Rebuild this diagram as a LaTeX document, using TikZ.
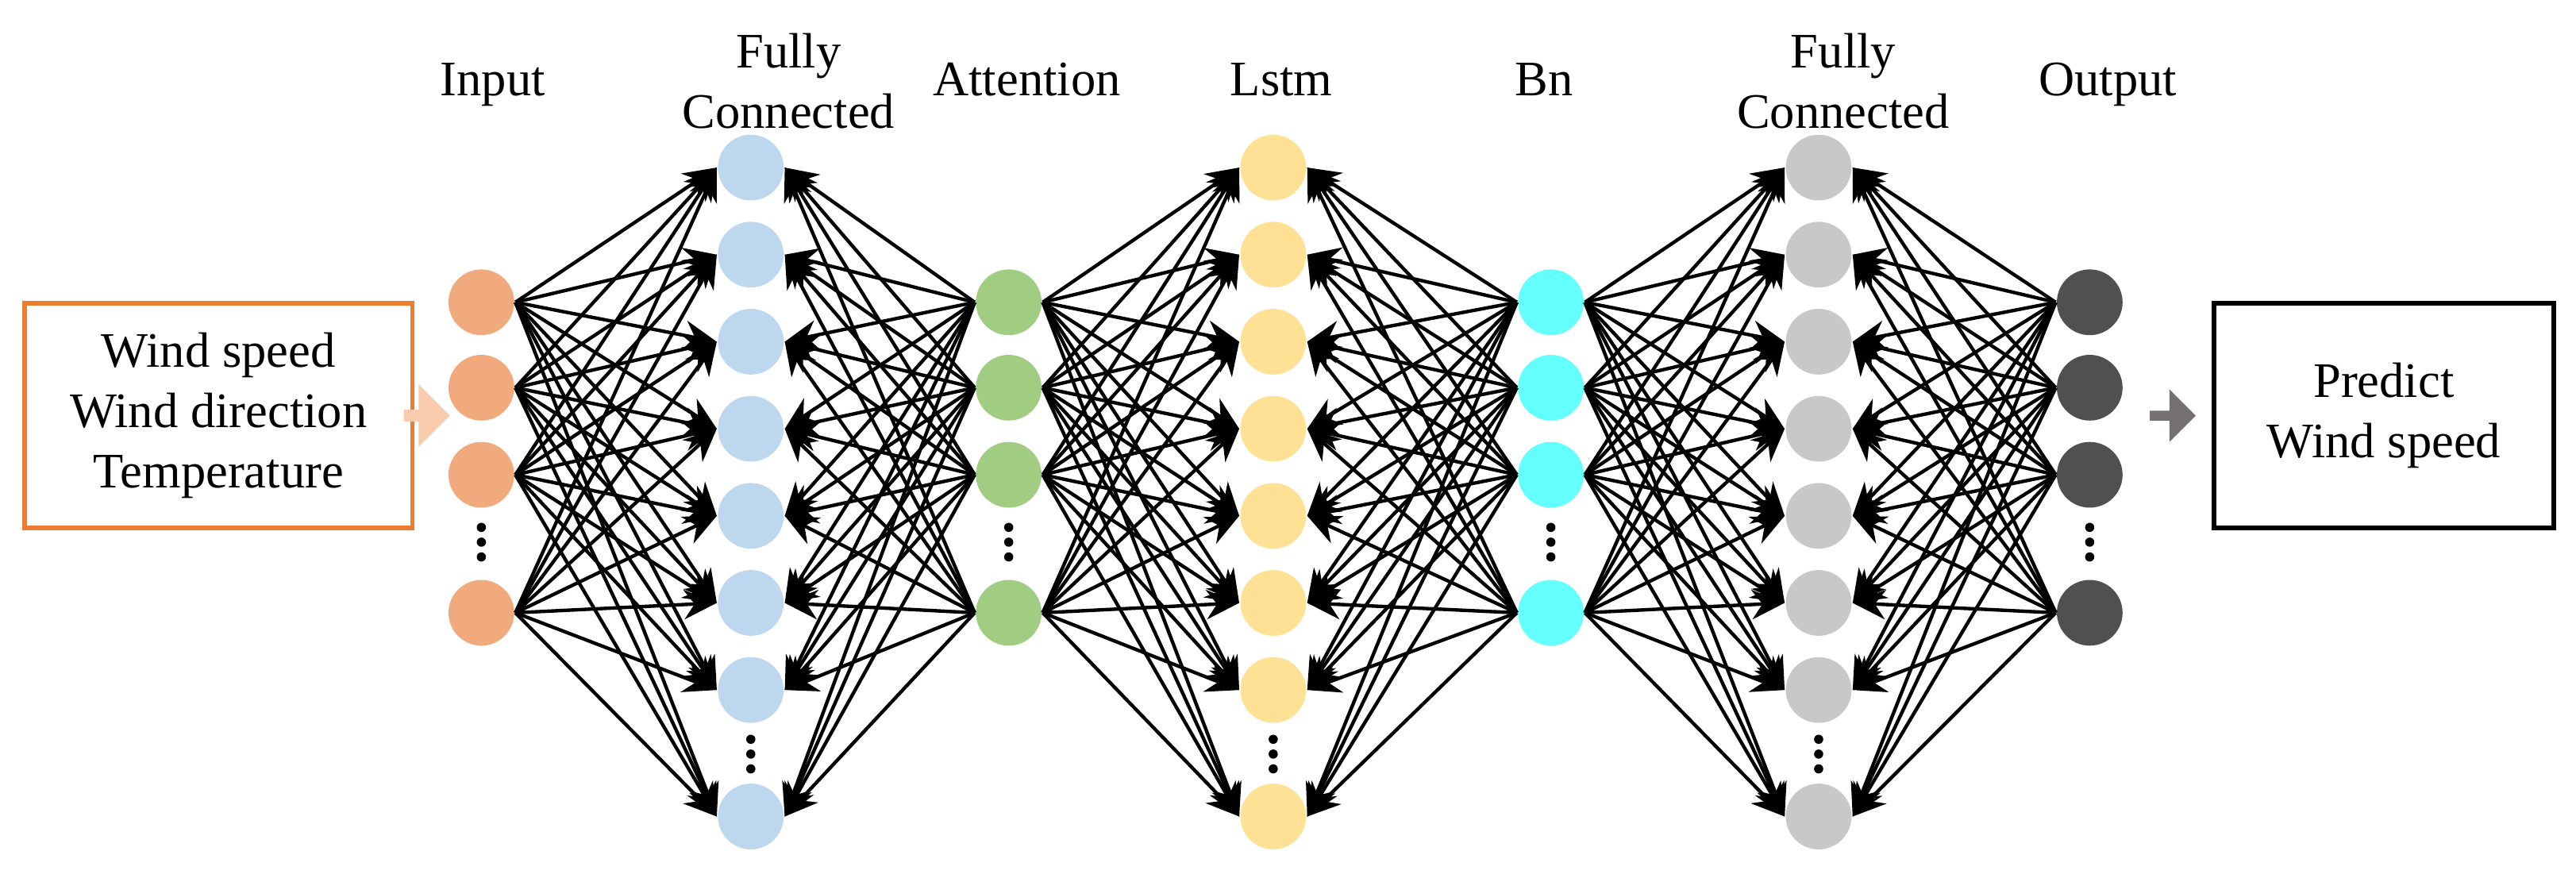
\documentclass[tikz,border=0pt]{standalone}
\usepackage{fontspec}
\setmainfont{Liberation Serif}
\usetikzlibrary{shapes, shapes.arrows, arrows.meta, positioning, calc}
\definecolor{inorange}{RGB}{240, 170, 125}
\definecolor{fcblue}{RGB}{189, 215, 238}
\definecolor{attgreen}{RGB}{160, 205, 130}
\definecolor{lstmyellow}{RGB}{255, 225, 150}
\definecolor{bncyan}{RGB}{100, 255, 255}
\definecolor{fcgray}{RGB}{200, 200, 200}
\definecolor{outdark}{RGB}{80, 80, 80}
\definecolor{boxorange}{RGB}{237, 125, 49}
\definecolor{arrowpeach}{RGB}{248, 203, 173}
\definecolor{arrowgray}{RGB}{118, 113, 113}

\begin{document}
\begin{tikzpicture}[
	        x=0.1mm, y=-0.1mm,
	        font=\fontsize{8.6}{10.4}\selectfont,
	        neuron/.style={
	            circle,
	            minimum size=4mm,
	            inner sep=0pt,
	            draw=none
	        },
	        link/.style={
	            -{Stealth[length=2mm, width=1.8mm]},
	            line width=0.6pt,
	            draw=black
	        },
	        title/.style={
	            align=center,
	            anchor=base
	        },
	        bigarrow/.style={
	            single arrow,
	            minimum height=2.8mm,
	            minimum width=3.2mm,
	            single arrow head extend=0.3mm,
	            inner sep=0pt,
	            draw=none
	        }
	    ]
	        \useasboundingbox (0,0) rectangle (1568,534);

	        % small layers
	        \foreach \lay/\x/\col in {in/293/inorange, att/614/attgreen, bn/944/bncyan, out/1272/outdark} {
	            \foreach \i/\y in {1/184, 2/236, 3/289, 4/373}
	                \node[neuron, fill=\col] (\lay\i) at (\x,\y) {};
	            \foreach \d in {321,330,339}
	                \fill (\x,\d) circle (0.28mm);
	        }
	        % large layers
	        \foreach \lay/\x/\col in {fca/457/fcblue, lstm/775/lstmyellow, fcb/1107/fcgray} {
	            \foreach \i/\y in {1/102, 2/155, 3/208, 4/261, 5/314, 6/367, 7/420, 8/497}
	                \node[neuron, fill=\col] (\lay\i) at (\x,\y) {};
	            \foreach \d in {450,459,468}
	                \fill (\x,\d) circle (0.28mm);
	        }

	        % connections
	        \foreach \i in {1,...,4} {
	            \foreach \j in {1,...,8} {
	                \draw[link] (in\i.east) -- (fca\j.west);
	                \draw[link] (att\i.west) -- (fca\j.east);
	                \draw[link] (att\i.east) -- (lstm\j.west);
	                \draw[link] (bn\i.west) -- (lstm\j.east);
	                \draw[link] (bn\i.east) -- (fcb\j.west);
	                \draw[link] (out\i.west) -- (fcb\j.east);
	            }
	        }

	        % titles
	        \node[title] at (300,58) {Input};
	        \node[title] at (480,78) {Fully\\Connected};
	        \node[title] at (625,58) {Attention};
	        \node[title] at (780,58) {Lstm};
	        \node[title] at (940,58) {Bn};
	        \node[title] at (1122,78) {Fully\\Connected};
	        \node[title] at (1283,58) {Output};

	        % input and output boxes
	        \node[draw=boxorange, line width=0.8pt, minimum width=23.6mm, minimum height=13.7mm, align=center] (inbox) at (133,253) {Wind speed\\Wind direction\\Temperature};
	        \node[bigarrow, fill=arrowpeach, minimum width=3.8mm] (inarrow) at (258,253) {};
	        \node[bigarrow, fill=arrowgray] (outarrow) at (1321,253) {};
	        \node[draw=black, line width=0.8pt, minimum width=20.7mm, minimum height=13.7mm, align=center] (outbox) at (1451,253) {Predict\\Wind speed};
	    \end{tikzpicture}
\end{document}
